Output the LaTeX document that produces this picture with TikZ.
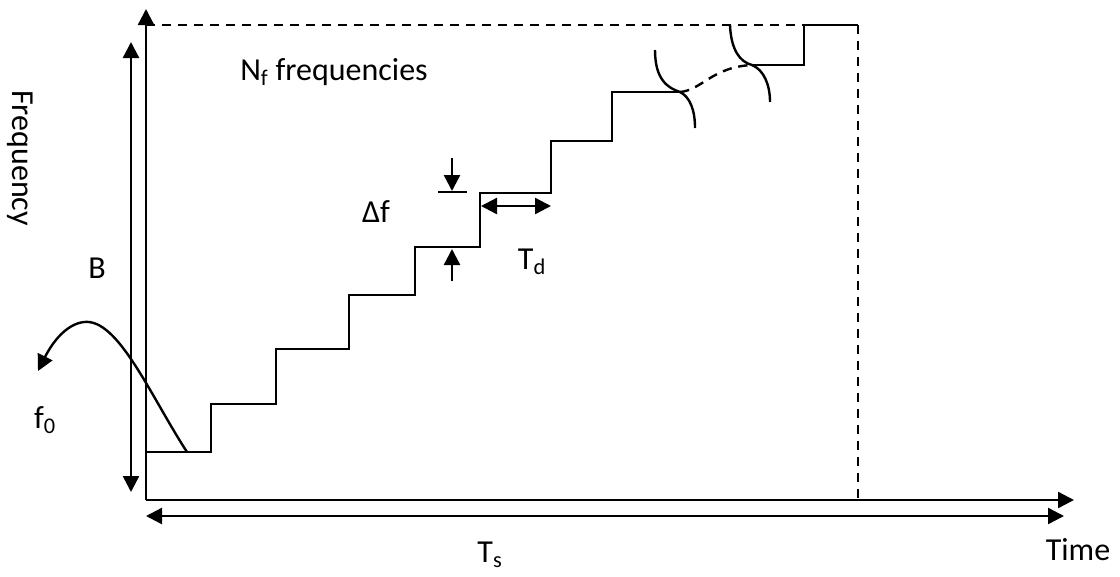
\documentclass[tikz,border=0pt]{standalone}
\usepackage{fontspec}
\setmainfont{Carlito}
\usetikzlibrary{arrows.meta}
\begin{document}
\begin{tikzpicture}[x=0.75pt,y=-0.75pt,
  ln/.style={line width=1.8pt},
  arr/.style={ln,-{Triangle[length=12pt,width=12pt]}},
  darr/.style={ln,{Triangle[length=12pt,width=12pt]}-{Triangle[length=12pt,width=12pt]}},
  dsh/.style={ln,dash pattern=on 7pt off 5pt},
  lbl/.style={font=\fontsize{24}{28}\selectfont, inner sep=0pt}]
\useasboundingbox (0,0) rectangle (1120,576);
% key points
\coordinate (O) at (146,500);
\coordinate (Ytop) at (146,9);
\coordinate (Xend) at (1074,500);
\coordinate (TL) at (146,25);
\coordinate (TR) at (858,25);
\coordinate (BR) at (858,500);
\coordinate (Btop) at (131,42);
\coordinate (Bbot) at (131,492);
\coordinate (TsL) at (146,516);
\coordinate (TsR) at (1064,516);
% axes
\draw[arr] (O) -- (Ytop);
\draw[arr] (O) -- (Xend);
% dashed bounds
\draw[dsh] (TL) -- (804,25);
\draw[dsh] (TR) -- (BR);
% B and Ts arrows
\draw[darr] (Btop) -- (Bbot);
\draw[darr] (TsL) -- (TsR);
% staircase
\coordinate (s0) at (146,452);
\coordinate (s1) at (680,92);
\draw[ln] (s0) -- (211,452) -- (211,404) -- (276,404) -- (276,349) -- (349,349)
  -- (349,295) -- (415,295) -- (415,247) -- (480,247) -- (480,193) -- (551,193)
  -- (551,141) -- (612,141) -- (612,92) -- (s1);
\coordinate (s2) at (752,65);
\draw[ln] (s2) -- (804,65) -- (804,25) -- (TR);
% break marks
\draw[ln] (655,50) .. controls (655,80) and (668,88) .. (s1) .. controls (690,97) and (695,110) .. (695,128);
\draw[ln] (730,25) .. controls (731,50) and (740,62) .. (s2) .. controls (764,70) and (770,85) .. (770,102);
\draw[dsh] (s1) .. controls (702,90) and (712,67) .. (s2);
% delta f markers
\coordinate (dA) at (452,158);
\coordinate (dB) at (452,191);
\coordinate (dC) at (452,281);
\coordinate (dD) at (452,249);
\draw[ln] (438,192) -- (467,192);
\draw[arr] (dA) -- (dB);
\draw[arr] (dC) -- (dD);
% Td arrow
\coordinate (tdA) at (481,206);
\coordinate (tdB) at (551,206);
\draw[darr] (tdA) -- (tdB);
% f0 curved arrow
\coordinate (f0s) at (187,452);
\coordinate (f0e) at (38,371);
\draw[arr] (f0s) .. controls (150,395) and (118,318) .. (84,322) .. controls (66,324) and (52,343) .. (f0e);
% labels
\node[lbl, rotate=-90] (freq) at (20,158) {Frequency};
\node[lbl, anchor=west] (nf) at (240,72) {N\textsubscript{f} frequencies};
\node[lbl] (B) at (97,268) {B};
\node[lbl] (df) at (376,212) {Δf};
\node[lbl] (td) at (532,262) {T\textsubscript{d}};
\node[lbl] (f0) at (45,420) {f\textsubscript{0}};
\node[lbl] (ts) at (490,555) {T\textsubscript{s}};
\node[lbl] (time) at (1078,550) {Time};
\end{tikzpicture}
\end{document}
